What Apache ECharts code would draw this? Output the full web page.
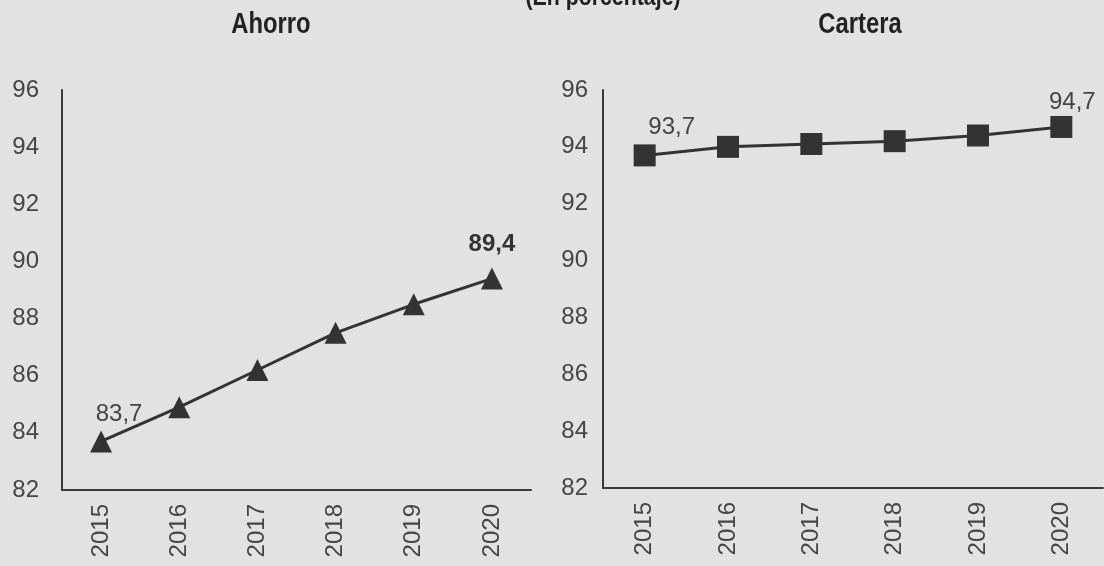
<!DOCTYPE html>
<html>
<head>
<meta charset="utf-8">
<script src="https://cdn.jsdelivr.net/npm/echarts@6/dist/echarts.min.js"></script>
<style>
html,body{margin:0;padding:0;background:#e2e2e2;}
#c{width:1104px;height:566px;}
</style>
</head>
<body>
<div id="c"></div>
<script>
const years = ['2015','2016','2017','2018','2019','2020'];
const ahorro = [83.7, 84.9, 86.2, 87.5, 88.5, 89.4];
const cartera = [93.7, 94.0, 94.1, 94.2, 94.4, 94.7];
const yMin = 82, yMax = 96, yStep = 2;
const titleLeft = 'Ahorro';
const titleRight = 'Cartera';
const subtitle = '(En porcentaje)';

const fontMain = '"Liberation Sans", Arial, sans-serif';
const fmt = p => p.value.toFixed(1).replace('.', ',');

function withLabels(values, first, last) {
  return values.map((v, i) => {
    if (i === 0) return {value: v, label: Object.assign({show: true}, first)};
    if (i === values.length - 1) return {value: v, label: Object.assign({show: true}, last)};
    return {value: v};
  });
}

function narrowText(text, cx, top, size) {
  return {
    type: 'text', x: cx, y: top, scaleX: 0.82, scaleY: 1, silent: true,
    style: {text: text, x: 0, y: 0, textAlign: 'center', textVerticalAlign: 'top',
            font: 'bold ' + size + 'px "Liberation Sans", Arial, sans-serif', fill: '#222'}
  };
}

const chart = echarts.init(document.getElementById('c'));
const axisLine = {show: true, lineStyle: {color: '#3a3a3a', width: 2}};
const xAxisBase = {
  type: 'category', data: years, boundaryGap: true,
  axisLine: axisLine, axisTick: {show: false},
  axisLabel: {rotate: 90, fontSize: 24, color: '#454545', fontFamily: fontMain, margin: 14}
};
const yAxisBase = {
  type: 'value', min: yMin, max: yMax, interval: yStep,
  axisLine: axisLine, axisTick: {show: false}, splitLine: {show: false},
  axisLabel: {fontSize: 24, color: '#454545', fontFamily: fontMain}
};

chart.setOption({
  backgroundColor: '#e2e2e2',
  animation: false,
  graphic: [
    narrowText(subtitle, 603, -15, 26),
    narrowText(titleLeft, 271, 10, 29),
    narrowText(titleRight, 860, 10, 29)
  ],
  grid: [
    {left: 62, top: 90, right: 573, bottom: 76},
    {left: 603, top: 90, right: 1, bottom: 78}
  ],
  xAxis: [
    Object.assign({gridIndex: 0}, xAxisBase),
    Object.assign({gridIndex: 1}, xAxisBase)
  ],
  yAxis: [
    Object.assign({gridIndex: 0}, yAxisBase, {axisLabel: Object.assign({}, yAxisBase.axisLabel, {margin: 23})}),
    Object.assign({gridIndex: 1}, yAxisBase, {axisLabel: Object.assign({}, yAxisBase.axisLabel, {margin: 15})})
  ],
  series: [
    {
      type: 'line', xAxisIndex: 0, yAxisIndex: 0,
      data: withLabels(ahorro,
        {offset: [18, 1]},
        {offset: [0, -6], fontWeight: 'bold', color: '#333'}),
      symbol: 'triangle', symbolSize: 22,
      lineStyle: {color: '#333', width: 3},
      itemStyle: {color: '#333'},
      label: {show: false, position: 'top', formatter: fmt, fontSize: 24, color: '#444', fontFamily: fontMain}
    },
    {
      type: 'line', xAxisIndex: 1, yAxisIndex: 1,
      data: withLabels(cartera,
        {offset: [27, 0]},
        {offset: [11, 3]}),
      symbol: 'rect', symbolSize: 22,
      lineStyle: {color: '#333', width: 3},
      itemStyle: {color: '#333'},
      label: {show: false, position: 'top', formatter: fmt, fontSize: 24, color: '#444', fontFamily: fontMain}
    }
  ]
});
</script>
</body>
</html>
